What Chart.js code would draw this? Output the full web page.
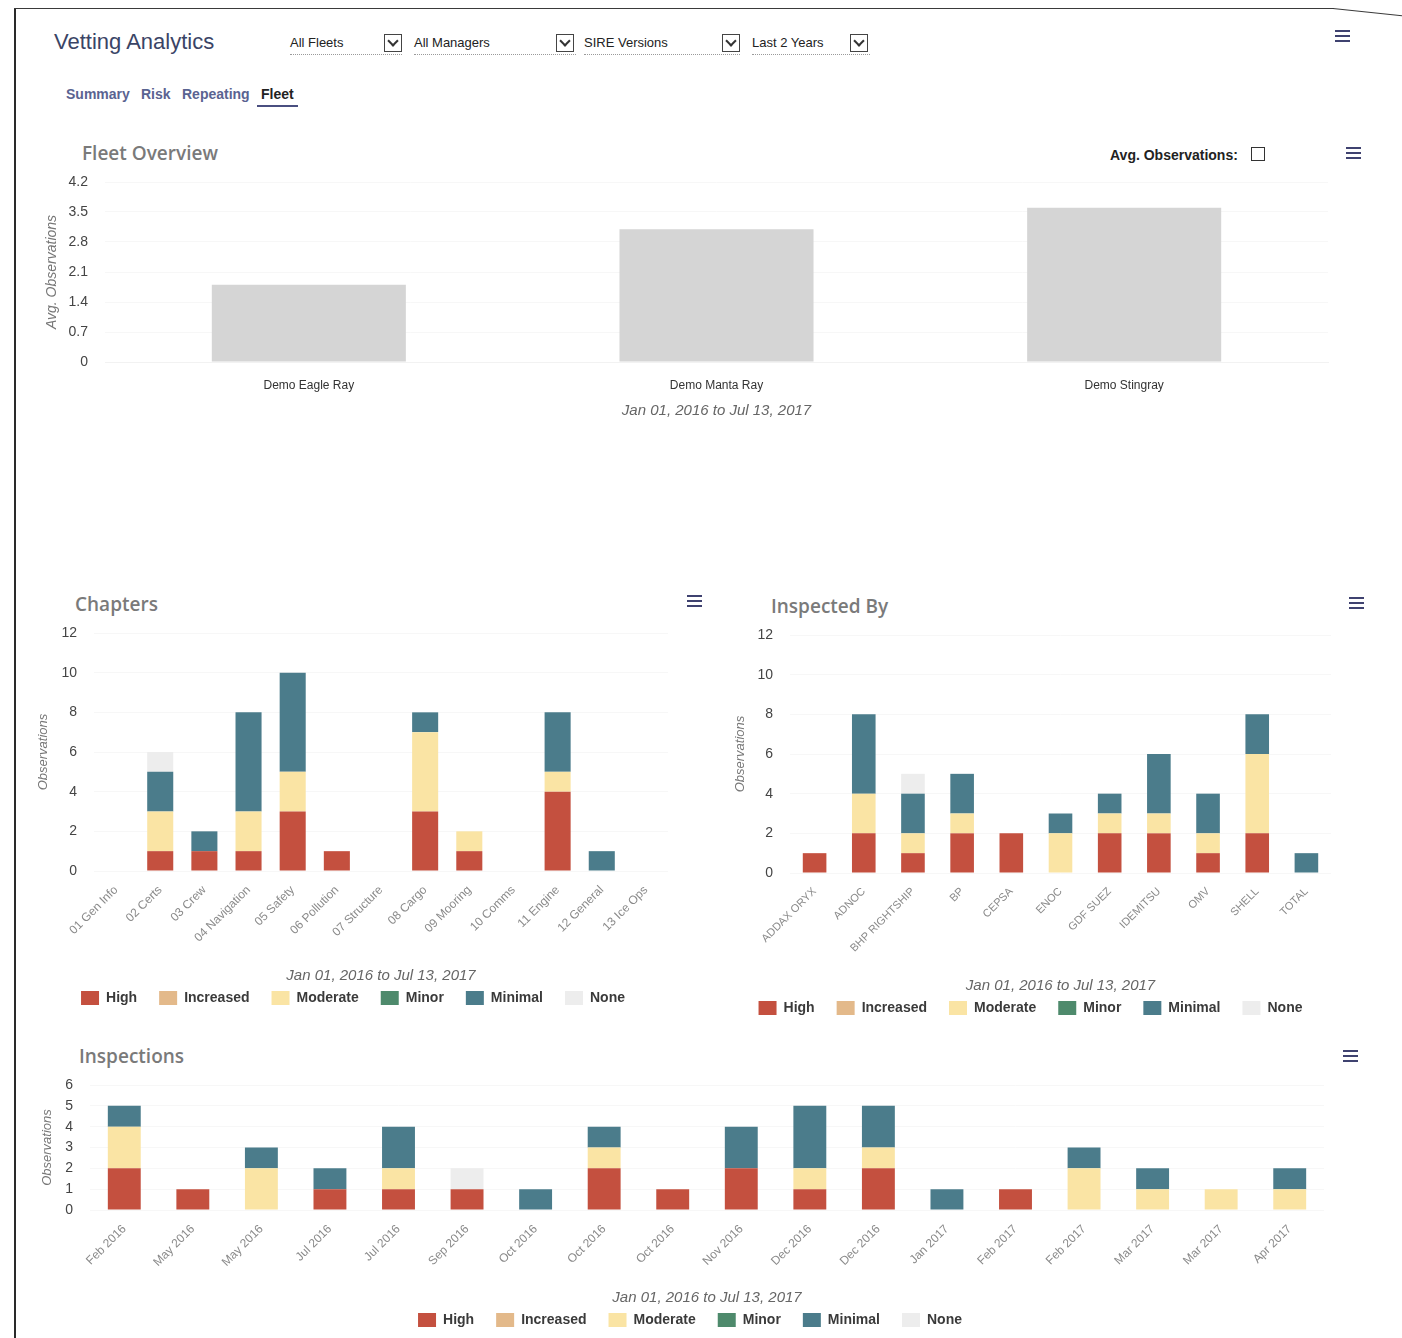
<!DOCTYPE html>
<html>
<head>
<meta charset="utf-8">
<title>Vetting Analytics</title>
<script src="https://cdn.jsdelivr.net/npm/chart.js@4.4.1/dist/chart.umd.min.js"></script>
<style>
  html, body { margin: 0; padding: 0; background: #fff; }
  body { width: 1402px; height: 1338px; position: relative; overflow: hidden;
         font-family: "Liberation Sans", Arial, sans-serif; color: #222; }
  .abs { position: absolute; white-space: nowrap; }
  canvas { position: absolute; }
  .frame-left { left: 14px; top: 8px; width: 2px; height: 1330px; background: #2a2a2a; }
  .frame-top { left: 14px; top: 8px; width: 1320px; height: 1px; background: #3a3a3a; }
  .frame-top-end { left: 1333px; top: 8px; width: 70px; height: 1px; background: #3a3a3a;
                   transform-origin: 0 0; transform: rotate(6deg); }
  .app-title { left: 54px; top: 29px; font-size: 22px; color: #3a4466; }
  .select { top: 34px; height: 20px; border-bottom: 1px dotted #9a9a9a; font-size: 13px; line-height: 18px; color: #222; }
  .select .box { position: absolute; top: 0; width: 16px; height: 16px; border: 1px solid #444; }
  .select .box::after { content: ""; position: absolute; left: 4px; top: 2px; width: 6px; height: 6px;
                        border-right: 2px solid #333; border-bottom: 2px solid #333; transform: rotate(45deg); }
  .tab { top: 86px; font-size: 14px; font-weight: bold; color: #5a6391; }
  .tab.active { color: #222; }
  .tab-line { left: 257px; top: 105px; width: 41px; height: 2px; background: #4a4f80; }
  .menu { width: 15px; height: 12px; }
  .menu i { position: absolute; left: 0; width: 15px; height: 2px; background: #3f4270; }
  .menu i:nth-child(1) { top: 0; } .menu i:nth-child(2) { top: 5px; } .menu i:nth-child(3) { top: 10px; }
  .card-title { font-family: "Open Sans", "Liberation Sans", sans-serif; font-weight: 600; font-size: 19px; color: #7a7a7a; }
  .avg-toggle { left: 1110px; top: 147px; font-size: 14px; font-weight: bold; color: #222; }
  .checkbox { left: 1251px; top: 147px; width: 12px; height: 12px; border: 1.5px solid #333; }
</style>
</head>
<body>
<div class="abs frame-left"></div>
<div class="abs frame-top"></div>
<div class="abs frame-top-end"></div>

<div class="abs app-title">Vetting Analytics</div>
<div class="abs select" style="left:290px;width:112px;">All Fleets<span class="box" style="left:94px;"></span></div>
<div class="abs select" style="left:414px;width:162px;">All Managers<span class="box" style="left:142px;"></span></div>
<div class="abs select" style="left:584px;width:156px;">SIRE Versions<span class="box" style="left:138px;"></span></div>
<div class="abs select" style="left:752px;width:118px;">Last 2 Years<span class="box" style="left:98px;"></span></div>
<div class="abs menu" style="left:1335px;top:30px;"><i></i><i></i><i></i></div>

<div class="abs tab" style="left:66px;">Summary</div>
<div class="abs tab" style="left:141px;">Risk</div>
<div class="abs tab" style="left:182px;">Repeating</div>
<div class="abs tab active" style="left:261px;">Fleet</div>
<div class="abs tab-line"></div>

<div class="abs card-title" style="left:82px;top:140px;">Fleet Overview</div>
<div class="abs avg-toggle">Avg. Observations:</div>
<div class="abs checkbox"></div>
<div class="abs menu" style="left:1346px;top:147px;"><i></i><i></i><i></i></div>
<canvas id="fleetChart" width="1320" height="260" style="left:30px;top:170px;"></canvas>

<div class="abs card-title" style="left:75px;top:591px;">Chapters</div>
<div class="abs menu" style="left:687px;top:595px;"><i></i><i></i><i></i></div>
<canvas id="chaptersChart" width="648" height="389" style="left:30px;top:620px;"></canvas>

<div class="abs card-title" style="left:771px;top:593px;">Inspected By</div>
<div class="abs menu" style="left:1349px;top:597px;"><i></i><i></i><i></i></div>
<canvas id="inspectedByChart" width="621" height="399" style="left:720px;top:620px;"></canvas>

<div class="abs card-title" style="left:79px;top:1043px;">Inspections</div>
<div class="abs menu" style="left:1343px;top:1050px;"><i></i><i></i><i></i></div>
<canvas id="inspectionsChart" width="1304" height="259" style="left:30px;top:1072px;"></canvas>

<script>
// ---- Fleet overview ----
const fleetVessels = ['Demo Eagle Ray', 'Demo Manta Ray', 'Demo Stingray'];
const fleetAvgObservations = [1.8, 3.1, 3.6];
const fleetAxisTicks = { min: 0, max: 4.2, step: 0.7 };

const dateRange = 'Jan 01, 2016 to Jul 13, 2017';

// ---- Severity levels (stack order, bottom to top) ----
const severityLevels = ['High', 'Increased', 'Moderate', 'Minor', 'Minimal', 'None'];
const severityColors = ['#c4503f', '#e3b98a', '#fae4a4', '#4e8a6c', '#4b7c8b', '#ededed'];

// ---- Chapters ----
const chapterNames = ['01 Gen Info', '02 Certs', '03 Crew', '04 Navigation', '05 Safety', '06 Pollution',
  '07 Structure', '08 Cargo', '09 Mooring', '10 Comms', '11 Engine', '12 General', '13 Ice Ops'];
const chapterHigh      = [0, 1, 1, 1, 3, 1, 0, 3, 1, 0, 4, 0, 0];
const chapterIncreased = [0, 0, 0, 0, 0, 0, 0, 0, 0, 0, 0, 0, 0];
const chapterModerate  = [0, 2, 0, 2, 2, 0, 0, 4, 1, 0, 1, 0, 0];
const chapterMinor     = [0, 0, 0, 0, 0, 0, 0, 0, 0, 0, 0, 0, 0];
const chapterMinimal   = [0, 2, 1, 5, 5, 0, 0, 1, 0, 0, 3, 1, 0];
const chapterNone      = [0, 1, 0, 0, 0, 0, 0, 0, 0, 0, 0, 0, 0];

// ---- Inspected by ----
const inspectors = ['ADDAX ORYX', 'ADNOC', 'BHP RIGHTSHIP', 'BP', 'CEPSA', 'ENOC', 'GDF SUEZ',
  'IDEMITSU', 'OMV', 'SHELL', 'TOTAL'];
const inspectorHigh      = [1, 2, 1, 2, 2, 0, 2, 2, 1, 2, 0];
const inspectorIncreased = [0, 0, 0, 0, 0, 0, 0, 0, 0, 0, 0];
const inspectorModerate  = [0, 2, 1, 1, 0, 2, 1, 1, 1, 4, 0];
const inspectorMinor     = [0, 0, 0, 0, 0, 0, 0, 0, 0, 0, 0];
const inspectorMinimal   = [0, 4, 2, 2, 0, 1, 1, 3, 2, 2, 1];
const inspectorNone      = [0, 0, 1, 0, 0, 0, 0, 0, 0, 0, 0];

// ---- Inspections (one bar per inspection) ----
const inspectionMonths = ['Feb 2016', 'May 2016', 'May 2016', 'Jul 2016', 'Jul 2016', 'Sep 2016',
  'Oct 2016', 'Oct 2016', 'Oct 2016', 'Nov 2016', 'Dec 2016', 'Dec 2016', 'Jan 2017',
  'Feb 2017', 'Feb 2017', 'Mar 2017', 'Mar 2017', 'Apr 2017'];
const inspectionHigh      = [2, 1, 0, 1, 1, 1, 0, 2, 1, 2, 1, 2, 0, 1, 0, 0, 0, 0];
const inspectionIncreased = [0, 0, 0, 0, 0, 0, 0, 0, 0, 0, 0, 0, 0, 0, 0, 0, 0, 0];
const inspectionModerate  = [2, 0, 2, 0, 1, 0, 0, 1, 0, 0, 1, 1, 0, 0, 2, 1, 1, 1];
const inspectionMinor     = [0, 0, 0, 0, 0, 0, 0, 0, 0, 0, 0, 0, 0, 0, 0, 0, 0, 0];
const inspectionMinimal   = [1, 0, 1, 1, 2, 0, 1, 1, 0, 2, 3, 2, 1, 0, 1, 1, 0, 1];
const inspectionNone      = [0, 0, 0, 0, 0, 1, 0, 0, 0, 0, 0, 0, 0, 0, 0, 0, 0, 0];

Chart.defaults.font.family = '"Liberation Sans", Arial, sans-serif';
Chart.defaults.animation = false;

// Value axis: labels sit 17px left of the plot (15px invisible tick + 2px padding)
function valueAxis(opts) {
  return {
    stacked: opts.stacked,
    min: opts.min,
    max: opts.max,
    ticks: { stepSize: opts.step, autoSkip: false, color: '#444', font: { size: 14 }, padding: 2 },
    grid: { color: '#f7f7f7', drawTicks: true, tickLength: 15, tickColor: 'rgba(0,0,0,0)' },
    border: { display: false },
    title: { display: true, text: opts.title, color: '#777', font: { size: opts.titleSize, style: 'italic' },
             padding: { top: opts.titlePad, bottom: 0 } },
    afterFit: s => { s.width = opts.width; }
  };
}

// Fleet overview: average observations per vessel
new Chart(document.getElementById('fleetChart'), {
  type: 'bar',
  data: {
    labels: fleetVessels,
    datasets: [{
      label: 'Avg. Observations',
      data: fleetAvgObservations,
      backgroundColor: '#d5d5d5',
      borderWidth: 0,
      categoryPercentage: 1,
      barPercentage: 0.476
    }]
  },
  options: {
    responsive: false,
    animation: false,
    layout: { padding: { left: 8, right: 22, top: 12, bottom: 10 } },
    plugins: { legend: { display: false }, tooltip: { enabled: false } },
    scales: {
      x: {
        grid: { display: false },
        border: { color: '#f2f2f2' },
        ticks: { color: '#333', font: { size: 12 }, padding: 8 },
        title: { display: true, text: dateRange, color: '#666', font: { size: 15, style: 'italic' },
                 padding: { top: 0, bottom: 0 } },
        afterFit: s => { s.height = 58; }
      },
      y: valueAxis({ stacked: false, min: fleetAxisTicks.min, max: fleetAxisTicks.max, step: fleetAxisTicks.step,
                     title: 'Avg. Observations', titleSize: 14, titlePad: 6, width: 67 })
    }
  }
});

// Stacked severity chart shared by Chapters, Inspected By and Inspections
function drawSeverityChart(canvasId, labels, series, geo) {
  new Chart(document.getElementById(canvasId), {
    type: 'bar',
    data: {
      labels: labels,
      datasets: severityLevels.map((name, i) => ({
        label: name,
        data: series[i],
        backgroundColor: severityColors[i],
        borderWidth: 0,
        categoryPercentage: 1,
        barPercentage: geo.bar
      }))
    },
    options: {
      responsive: false,
      animation: false,
      layout: { padding: { left: geo.padL, right: geo.padR, top: geo.padT, bottom: 0 } },
      plugins: {
        tooltip: { enabled: false },
        legend: {
          position: 'bottom',
          align: 'center',
          maxHeight: 40,
          labels: { boxWidth: 18, boxHeight: 14, padding: 22, color: '#3a3a3a',
                    font: { size: 14, weight: 'bold' } }
        }
      },
      scales: {
        x: {
          stacked: true,
          grid: { display: false },
          border: { display: false },
          ticks: { autoSkip: false, minRotation: 45, maxRotation: 45, padding: 4, color: '#8a8a8a',
                   font: { size: geo.xFont } },
          title: { display: true, text: dateRange, color: '#666', font: { size: 15, style: 'italic' },
                   padding: { top: 0, bottom: -16 } },
          afterFit: s => { s.height = geo.xH; }
        },
        y: valueAxis({ stacked: true, min: 0, max: geo.max, step: geo.step,
                       title: 'Observations', titleSize: 13, titlePad: geo.yTitlePad, width: geo.yW })
      }
    }
  });
}

drawSeverityChart('chaptersChart', chapterNames,
  [chapterHigh, chapterIncreased, chapterModerate, chapterMinor, chapterMinimal, chapterNone],
  { bar: 0.59, padL: 8, padR: 10, padT: 13, xH: 98, yW: 56, yTitlePad: -2, max: 12, step: 2, xFont: 12 });

drawSeverityChart('inspectedByChart', inspectors,
  [inspectorHigh, inspectorIncreased, inspectorModerate, inspectorMinor, inspectorMinimal, inspectorNone],
  { bar: 0.48, padL: 10, padR: 10, padT: 15, xH: 106, yW: 60, yTitlePad: 3, max: 12, step: 2, xFont: 11 });

drawSeverityChart('inspectionsChart', inspectionMonths,
  [inspectionHigh, inspectionIncreased, inspectionModerate, inspectionMinor, inspectionMinimal, inspectionNone],
  { bar: 0.48, padL: 26, padR: 10, padT: 13, xH: 81, yW: 34, yTitlePad: -16, max: 6, step: 1, xFont: 12 });
</script>
</body>
</html>
